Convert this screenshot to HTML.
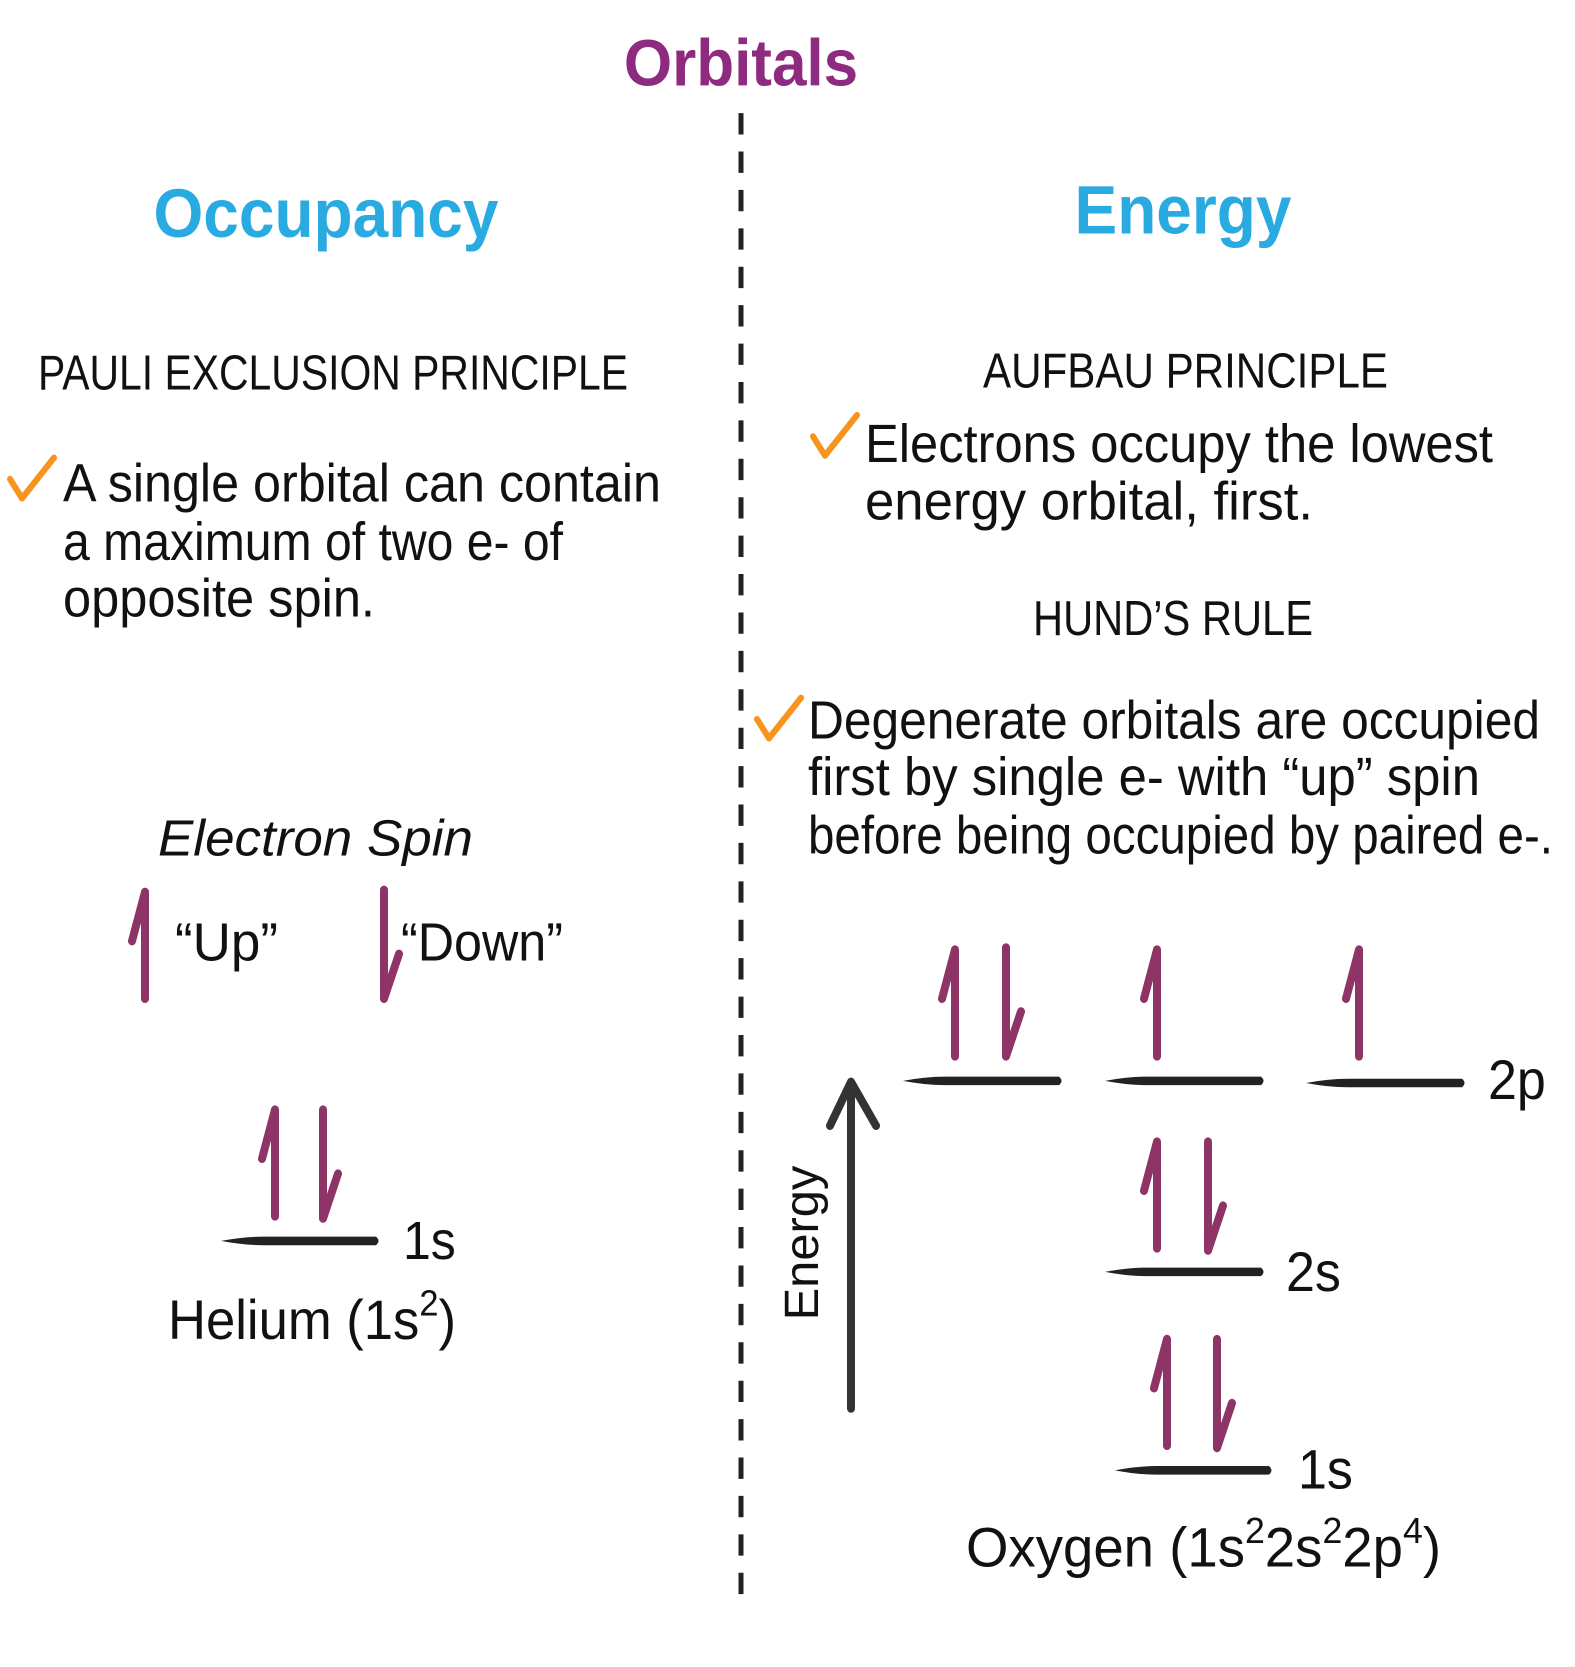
<!DOCTYPE html>
<html><head><meta charset="utf-8"><style>html,body{margin:0;padding:0;background:#fff}svg{display:block}</style></head>
<body>
<svg width="1575" height="1667" viewBox="0 0 1575 1667" xmlns="http://www.w3.org/2000/svg" font-family="Liberation Sans Narrow, Liberation Sans, sans-serif">
<defs>
<g id="up"><path d="M14 4 L14 104 M14 4 L1 50" stroke="#8e3466" stroke-width="8" fill="none" stroke-linecap="round" stroke-linejoin="round"/></g>
<g id="dn"><path d="M4 2 L4 104 M4 104 L19 62" stroke="#8e3466" stroke-width="8" fill="none" stroke-linecap="round" stroke-linejoin="round"/></g>
<g id="chk"><path d="M2 22 L14 40 L46 2" stroke="#f7941d" stroke-width="6" fill="none" stroke-linecap="round" stroke-linejoin="round"/></g>
</defs>
<g transform="translate(3,0) scale(1,1.067)">
<text x="738" y="80" text-anchor="middle" font-family="Liberation Sans, sans-serif" font-weight="bold" font-size="62" fill="#8e2a7f">Orbitals</text>
<line x1="738" y1="106" x2="738" y2="1505" stroke="#222" stroke-width="5" stroke-dasharray="20,16"/>
<text x="323" y="222" text-anchor="middle" font-family="Liberation Sans, sans-serif" font-weight="bold" font-size="64" fill="#29abe2">Occupancy</text>
<text x="1180" y="219" text-anchor="middle" font-family="Liberation Sans, sans-serif" font-weight="bold" font-size="64" fill="#29abe2">Energy</text>
<g fill="#111">
<text x="35" y="365" font-size="46" textLength="590" lengthAdjust="spacingAndGlyphs">PAULI EXCLUSION PRINCIPLE</text>
<text x="60" y="470" font-size="50" textLength="598" lengthAdjust="spacingAndGlyphs">A single orbital can contain</text>
<text x="60" y="525" font-size="50" textLength="500" lengthAdjust="spacingAndGlyphs">a maximum of two e- of</text>
<text x="60" y="578" font-size="50" textLength="312" lengthAdjust="spacingAndGlyphs">opposite spin.</text>
<text x="980" y="363" font-size="46" textLength="405" lengthAdjust="spacingAndGlyphs">AUFBAU PRINCIPLE</text>
<text x="862" y="433" font-size="50" textLength="628" lengthAdjust="spacingAndGlyphs">Electrons occupy the lowest</text>
<text x="862" y="487" font-size="50" textLength="448" lengthAdjust="spacingAndGlyphs">energy orbital, first.</text>
<text x="1030" y="595" font-size="46" textLength="280" lengthAdjust="spacingAndGlyphs">HUND’S RULE</text>
<text x="805" y="692" font-size="50" textLength="732" lengthAdjust="spacingAndGlyphs">Degenerate orbitals are occupied</text>
<text x="805" y="745" font-size="50" textLength="672" lengthAdjust="spacingAndGlyphs">first by single e- with “up” spin</text>
<text x="805" y="800" font-size="50" textLength="745" lengthAdjust="spacingAndGlyphs">before being occupied by paired e-.</text>
<text x="155" y="802" font-size="48" font-style="italic" textLength="315" lengthAdjust="spacingAndGlyphs">Electron Spin</text>
<text x="172" y="900" font-size="50" textLength="103" lengthAdjust="spacingAndGlyphs">“Up”</text>
<text x="398" y="900" font-size="50" textLength="162" lengthAdjust="spacingAndGlyphs">“Down”</text>
<text x="400" y="1180" font-size="50">1s</text>
<text x="165" y="1255" font-size="52" textLength="288" lengthAdjust="spacingAndGlyphs">Helium (1s<tspan dy="-22" font-size="34">2</tspan><tspan dy="22">)</tspan></text>
<text x="1485" y="1030" font-size="52">2p</text>
<text x="1283" y="1210" font-size="52">2s</text>
<text x="1295" y="1395" font-size="52">1s</text>
<text x="963" y="1468" font-size="52" textLength="475" lengthAdjust="spacingAndGlyphs">Oxygen (1s<tspan dy="-22" font-size="34">2</tspan><tspan dy="22">2s</tspan><tspan dy="-22" font-size="34">2</tspan><tspan dy="22">2p</tspan><tspan dy="-22" font-size="34">4</tspan><tspan dy="22">)</tspan></text>
<text transform="translate(815,1165) rotate(-90)" text-anchor="middle" font-size="48" textLength="145" lengthAdjust="spacingAndGlyphs">Energy</text>
</g>
<use href="#chk" x="5" y="427"/>
<use href="#chk" x="808" y="387"/>
<use href="#chk" x="752" y="652"/>
<use href="#up" x="128" y="832"/>
<use href="#dn" x="377" y="832"/>
<use href="#up" x="258" y="1036"/>
<use href="#dn" x="316" y="1038"/>
<use href="#up" x="938" y="886"/>
<use href="#dn" x="999" y="886"/>
<use href="#up" x="1140" y="886"/>
<use href="#up" x="1342" y="886"/>
<use href="#up" x="1140" y="1066"/>
<use href="#dn" x="1201" y="1068"/>
<use href="#up" x="1150" y="1251"/>
<use href="#dn" x="1210" y="1253"/>
<g fill="#222">
<path d="M218 1163 Q240 1159 260 1159 L373 1159 Q378 1163 373 1167 L260 1167 Q240 1167 218 1163Z"/>
<path d="M900 1013 Q922 1009 942 1009 L1056 1009 Q1061 1013 1056 1017 L942 1017 Q922 1017 900 1013Z"/>
<path d="M1102 1013 Q1124 1009 1144 1009 L1258 1009 Q1263 1013 1258 1017 L1144 1017 Q1124 1017 1102 1013Z"/>
<path d="M1303 1015 Q1325 1011 1345 1011 L1459 1011 Q1464 1015 1459 1019 L1345 1019 Q1325 1019 1303 1015Z"/>
<path d="M1102 1192 Q1124 1188 1144 1188 L1258 1188 Q1263 1192 1258 1196 L1144 1196 Q1124 1196 1102 1192Z"/>
<path d="M1112 1378 Q1134 1374 1154 1374 L1266 1374 Q1271 1378 1266 1382 L1154 1382 Q1134 1382 1112 1378Z"/>
</g>
<path d="M848 1320 L848 1014 M827 1055 L848 1014 L873 1055" stroke="#333" stroke-width="8" fill="none" stroke-linecap="round" stroke-linejoin="round"/>
</g>
</svg>
</body></html>
